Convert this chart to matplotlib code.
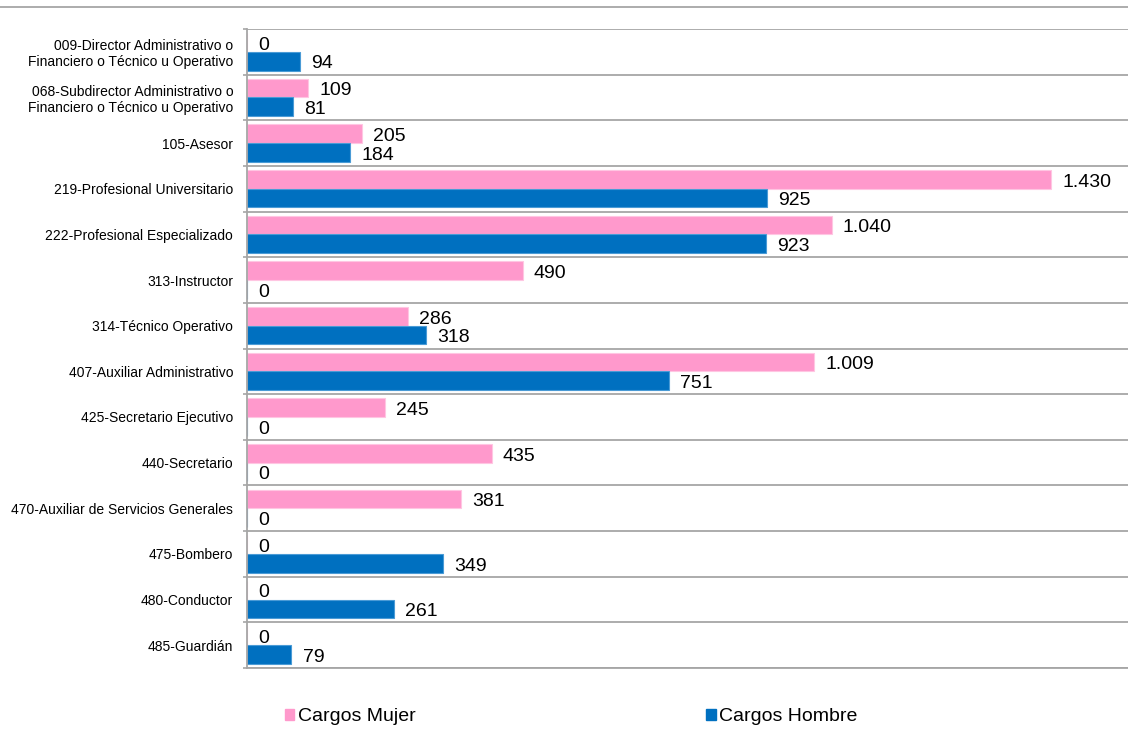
import numpy as np
import matplotlib.pyplot as plt
from matplotlib.lines import Line2D
from matplotlib.patches import Patch

plt.rcParams["font.family"] = ["Liberation Sans", "DejaVu Sans"]

CATEGORIES = [
    "009-Director Administrativo o\nFinanciero o Técnico u Operativo",
    "068-Subdirector Administrativo o\nFinanciero o Técnico u Operativo",
    "105-Asesor",
    "219-Profesional Universitario",
    "222-Profesional Especializado",
    "313-Instructor",
    "314-Técnico Operativo",
    "407-Auxiliar Administrativo",
    "425-Secretario Ejecutivo",
    "440-Secretario",
    "470-Auxiliar de Servicios Generales",
    "475-Bombero",
    "480-Conductor",
    "485-Guardián",
]
CARGOS_MUJER = [0, 109, 205, 1430, 1040, 490, 286, 1009, 245, 435, 381, 0, 0, 0]
CARGOS_HOMBRE = [94, 81, 184, 925, 923, 0, 318, 751, 0, 0, 0, 349, 261, 79]

PINK = "#FF99CC"
BLUE = "#0070C0"
GRID = "#A6A6A6"


def fmt(v):
    return f"{v:,}".replace(",", ".")


fig = plt.figure(figsize=(11.28, 7.32), dpi=100)
ax = fig.add_axes([0.219, 0.0874, 0.781, 0.873])

y = np.arange(len(CATEGORIES))
h = 0.41
ax.barh(y - h / 2, CARGOS_MUJER, height=h, color=PINK,
        edgecolor="#FFC6E2", linewidth=0.8)
ax.barh(y + h / 2, CARGOS_HOMBRE, height=h, color=BLUE,
        edgecolor="#4A9BD6", linewidth=0.8)

# value labels, nudged a little below the bar centre like the original
for offset, vals in ((-h / 2, CARGOS_MUJER), (h / 2, CARGOS_HOMBRE)):
    for yi, v in zip(y, vals):
        ax.annotate(fmt(v), (v, yi + offset), xytext=(8, -2),
                    textcoords="offset points", fontsize=14,
                    va="center", ha="left", color="black")

ax.set_xlim(0, 1567)
ax.set_ylim(len(CATEGORIES) - 0.5, -0.5)
ax.set_yticks(y)
ax.set_yticklabels(CATEGORIES, fontsize=10, ha="right", linespacing=1.15)
ax.tick_params(axis="y", which="major", length=0, pad=10)
ax.set_yticks(np.arange(-0.5, len(CATEGORIES)), minor=True)
ax.tick_params(axis="y", which="minor", length=3, color=GRID, width=1.2)
ax.grid(axis="y", which="minor", color=GRID, linewidth=1.3)
ax.set_axisbelow(True)
ax.set_xticks([])

for s in ("top", "right"):
    ax.spines[s].set_visible(False)
for s in ("left", "bottom"):
    ax.spines[s].set_color(GRID)
    ax.spines[s].set_linewidth(1.3)

fig.add_artist(Line2D([0, 1], [1 - 7 / 732, 1 - 7 / 732], color=GRID,
                      linewidth=1.3, transform=fig.transFigure))

handles = [Patch(color=PINK), Patch(color=BLUE)]
fig.legend(handles, ["Cargos Mujer", "Cargos Hombre"], ncol=2,
           loc="center left", bbox_to_anchor=(0.2455, 0.021), frameon=False,
           fontsize=14, handlelength=0.5, handleheight=0.5,
           handletextpad=0.2, columnspacing=14.9, borderaxespad=0)

fig.savefig("out.png", dpi=100)
